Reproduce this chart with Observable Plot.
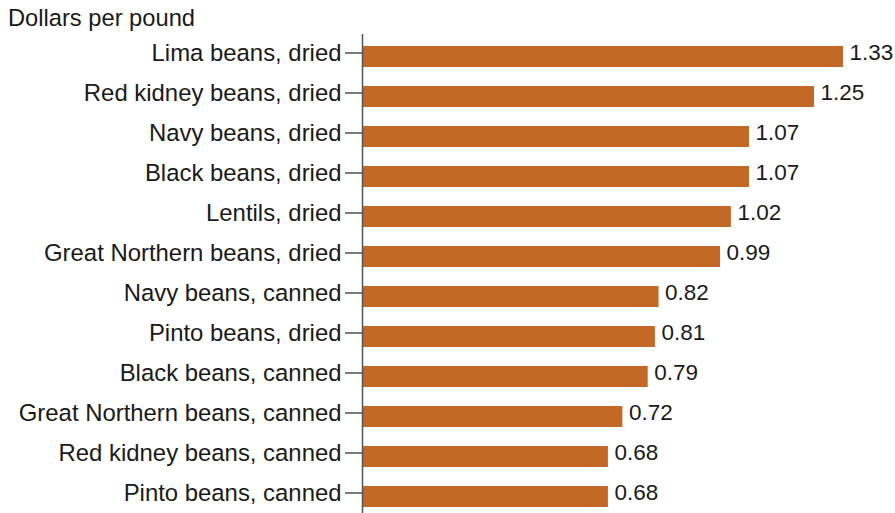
<!DOCTYPE html>
<html>
<head>
<meta charset="utf-8">
<script src="https://cdn.jsdelivr.net/npm/d3@7"></script>
<script src="https://cdn.jsdelivr.net/npm/@observablehq/plot@0.6"></script>
<style>
  html, body { margin: 0; padding: 0; background: #fff; }
  #title { font-family: "Liberation Sans", Arial, Helvetica, sans-serif; font-size: 23.7px; color: #1a1a1a; height: 34px; line-height: 36px; padding-left: 8px; white-space: nowrap; }
</style>
</head>
<body>
<div id="title">Dollars per pound</div>
<div id="chart"></div>
<script>
const categories = [
  "Lima beans, dried",
  "Red kidney beans, dried",
  "Navy beans, dried",
  "Black beans, dried",
  "Lentils, dried",
  "Great Northern beans, dried",
  "Navy beans, canned",
  "Pinto beans, dried",
  "Black beans, canned",
  "Great Northern beans, canned",
  "Red kidney beans, canned",
  "Pinto beans, canned"
];
const prices = [1.33, 1.25, 1.07, 1.07, 1.02, 0.99, 0.82, 0.81, 0.79, 0.72, 0.68, 0.68];
const priceLabels = ["1.33", "1.25", "1.07", "1.07", "1.02", "0.99", "0.82", "0.81", "0.79", "0.72", "0.68", "0.68"];

const data = categories.map((c, i) => ({category: c, price: prices[i], label: priceLabels[i]}));

const chart = Plot.plot({
  width: 895,
  height: 479,
  marginLeft: 362,
  marginRight: 26.7,
  marginTop: 0,
  marginBottom: 0,
  style: {fontFamily: "'Liberation Sans', Arial, Helvetica, sans-serif", fontSize: "23.9px", color: "#1a1a1a", background: "#fff"},
  x: {domain: [0, 1.4], axis: null},
  y: {domain: categories, range: [-9.4, 494.8], padding: 0.48, label: null},
  marks: [
    Plot.barX(data, {x: "price", y: "category", fill: "#C46826"}),
    Plot.axisY({tickSize: 17, tickPadding: 4, dy: -4, fontSize: 23.9, stroke: "#333", strokeWidth: 1.3, label: null}),
    Plot.ruleX([0], {stroke: "#555", strokeWidth: 1.5}),
    Plot.text(data, {x: "price", y: "category", text: "label", textAnchor: "start", dx: 6, dy: -4, fontSize: 22.5, fill: "#1a1a1a"})
  ]
});
document.getElementById("chart").appendChild(chart);
</script>
</body>
</html>
